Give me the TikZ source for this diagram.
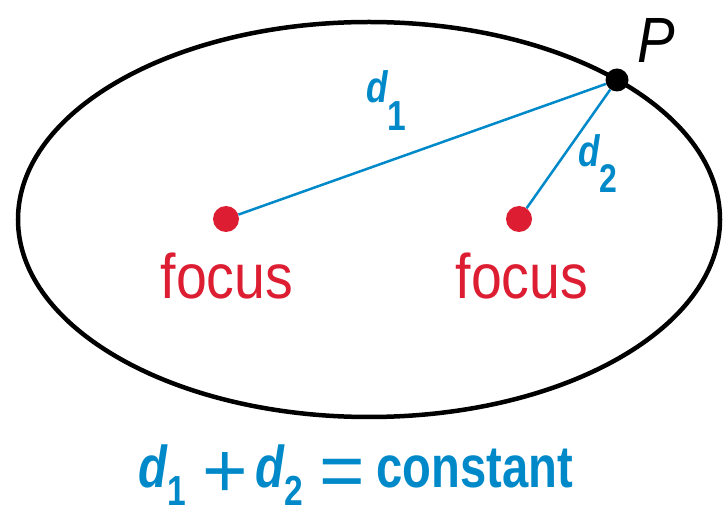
\documentclass[tikz,border=0pt]{standalone}
\usepackage{fontspec}
\setmainfont{Liberation Sans}
\newfontfamily\labelfont{Liberation Sans}[FakeStretch=0.88]
\newfontfamily\eqfont{Liberation Sans}[FakeStretch=0.8]
\definecolor{fred}{RGB}{221,29,50}
\definecolor{dblue}{RGB}{0,137,201}

\begin{document}
\begin{tikzpicture}[x=1pt, y=-1pt,
    orbit/.style={line width=4.5pt},
    fdot/.style={circle, fill=fred, inner sep=0pt, minimum size=26pt},
    pdot/.style={circle, fill=black, inner sep=0pt, minimum size=23pt},
    dline/.style={draw=dblue, line width=2.5pt},
    flabel/.style={text=fred, inner sep=0pt, anchor=base, font=\labelfont\fontsize{63}{63}\selectfont},
    dlabel/.style={text=dblue, inner sep=0pt, anchor=base west, font=\eqfont\fontsize{44}{44}\selectfont},
    eqlabel/.style={text=dblue, inner sep=0pt, anchor=base, font=\eqfont\fontsize{59}{59}\selectfont}]
  % an italic d with its subscript #1, of size #2, dropped by #3
  \newcommand{\dvar}[3]{{\bfseries\itshape d}\raisebox{-#3}{\fontsize{#2}{#2}\selectfont\bfseries\upshape #1}}
  % a thin operator sign for the equation
  \newcommand{\opsign}[1]{\raisebox{-10pt}{\normalfont\fontsize{78}{78}\selectfont #1}}
  \useasboundingbox (0,0) rectangle (723,510);
  % ------------------------------------------------------------------ the ellipse
  \draw[orbit] (369,219.5) ellipse [x radius=351pt, y radius=197.5pt];
  % ------------------------------------------------------------------ foci and P
  \node[fdot] (f1) at (226,219) {};
  \node[fdot] (f2) at (519,219) {};
  \node[pdot] (p) at (617,80) {};
  \draw[dline] (f1) -- (p);
  \draw[dline] (f2) -- (p);
  \node[flabel] (f1label) at (227,299) {focus};
  \node[flabel] (f2label) at (522,299) {focus};
  \node[anchor=base, inner sep=0pt, font=\labelfont\fontsize{64}{64}\selectfont\itshape] (plabel) at (656,63) {P};
  % ------------------------------------------------------------------ distances
  \node[dlabel] (d1) at (366,103) {\dvar{1}{42}{28pt}};
  \node[dlabel] (d2) at (578,167) {\dvar{2}{40}{26pt}};
  \node[eqlabel] (law) at (356,487)
    {\dvar{1}{42}{18pt}\hspace{16pt}\opsign{+}\hspace{8pt}\dvar{2}{42}{18pt}\hspace{16pt}\opsign{=}\hspace{12pt}\textbf{constant}};
\end{tikzpicture}
\end{document}
